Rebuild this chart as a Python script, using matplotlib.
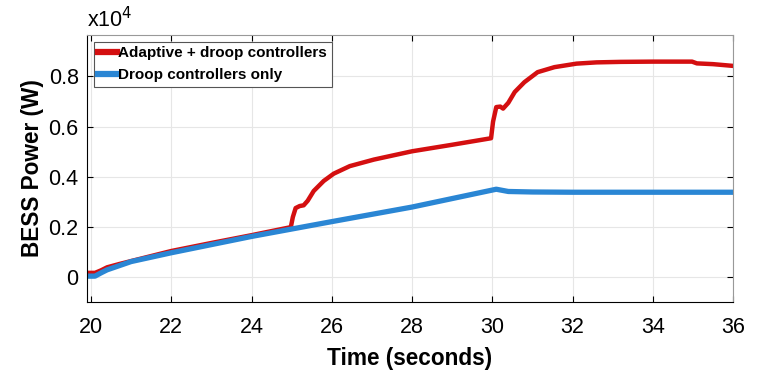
import matplotlib.pyplot as plt

plt.rcParams['font.family'] = ['Liberation Sans', 'DejaVu Sans']

# Adaptive + droop controllers (puissance en x10^4 W)
t_adapt = [19.9, 20.1, 20.25, 20.4, 20.7, 21, 22, 23, 24, 24.98, 25.03, 25.1, 25.2, 25.3,
           25.4, 25.55, 25.8, 26.05, 26.45, 27.05, 28, 29, 29.97, 30.02, 30.1, 30.2, 30.27,
           30.4, 30.56, 30.8, 31.13, 31.55, 32.1, 32.6, 33.2, 34, 34.98, 35.1, 35.5, 36]
p_adapt = [0.018, 0.018, 0.028, 0.04, 0.053, 0.065, 0.105, 0.137, 0.168, 0.2, 0.24, 0.276,
           0.284, 0.287, 0.305, 0.344, 0.384, 0.413, 0.443, 0.469, 0.502, 0.528, 0.554,
           0.62, 0.678, 0.68, 0.672, 0.695, 0.738, 0.777, 0.817, 0.837, 0.851, 0.856, 0.858,
           0.859, 0.859, 0.852, 0.849, 0.842]

# Droop controllers only
t_droop = [19.9, 20.1, 20.25, 20.4, 21, 22, 24, 26, 28, 30.1, 30.4, 31, 32, 36]
p_droop = [0.005, 0.005, 0.018, 0.03, 0.063, 0.098, 0.163, 0.222, 0.28, 0.351, 0.342,
           0.34, 0.339, 0.339]

fig = plt.figure(figsize=(7.58, 3.74), dpi=100)
ax = fig.add_axes([87/758, 1 - 302/374, (733-87)/758, (302-35)/374])

ax.plot(t_adapt, [v*1e4 for v in p_adapt], color='#d40f10', lw=3.2, label='Adaptive + droop controllers')
ax.plot(t_droop, [v*1e4 for v in p_droop], color='#2a86d4', lw=3.8, label='Droop controllers only')

ax.set_xlim(19.9, 36)
ax.set_ylim(-980, 9650)
ax.set_xticks(range(20, 37, 2))
ax.set_yticks([0, 2000, 4000, 6000, 8000])
ax.set_yticklabels(['0', '0.2', '0.4', '0.6', '0.8'])
ax.tick_params(labelsize=15.5, direction='in', top=True, right=True, length=4)
ax.tick_params(axis='x', pad=11)
ax.tick_params(axis='y', pad=6)
ax.grid(color='#e6e6e6', lw=0.8)
for s in ['top', 'right']:
    ax.spines[s].set_color('#999999')
ax.text(0, 1.01, 'x10$^4$', transform=ax.transAxes, fontsize=15.5, ha='left', va='bottom')

ax.set_xlabel('Time (seconds)', fontsize=16.3, fontweight='bold', labelpad=6)
ax.set_ylabel('BESS Power (W)', fontsize=16.3, fontweight='bold', labelpad=3)

leg = ax.legend(loc='upper left', prop={'weight': 'bold', 'size': 11}, handlelength=1.2,
                handletextpad=0.1, borderaxespad=0.45, fancybox=False, framealpha=1,
                borderpad=0.3, labelspacing=0.5)
leg.get_frame().set_edgecolor('#555555')
leg.get_frame().set_linewidth(0.8)
for h in leg.get_lines():
    h.set_linewidth(4.5)

plt.savefig('out.png', dpi=100)
